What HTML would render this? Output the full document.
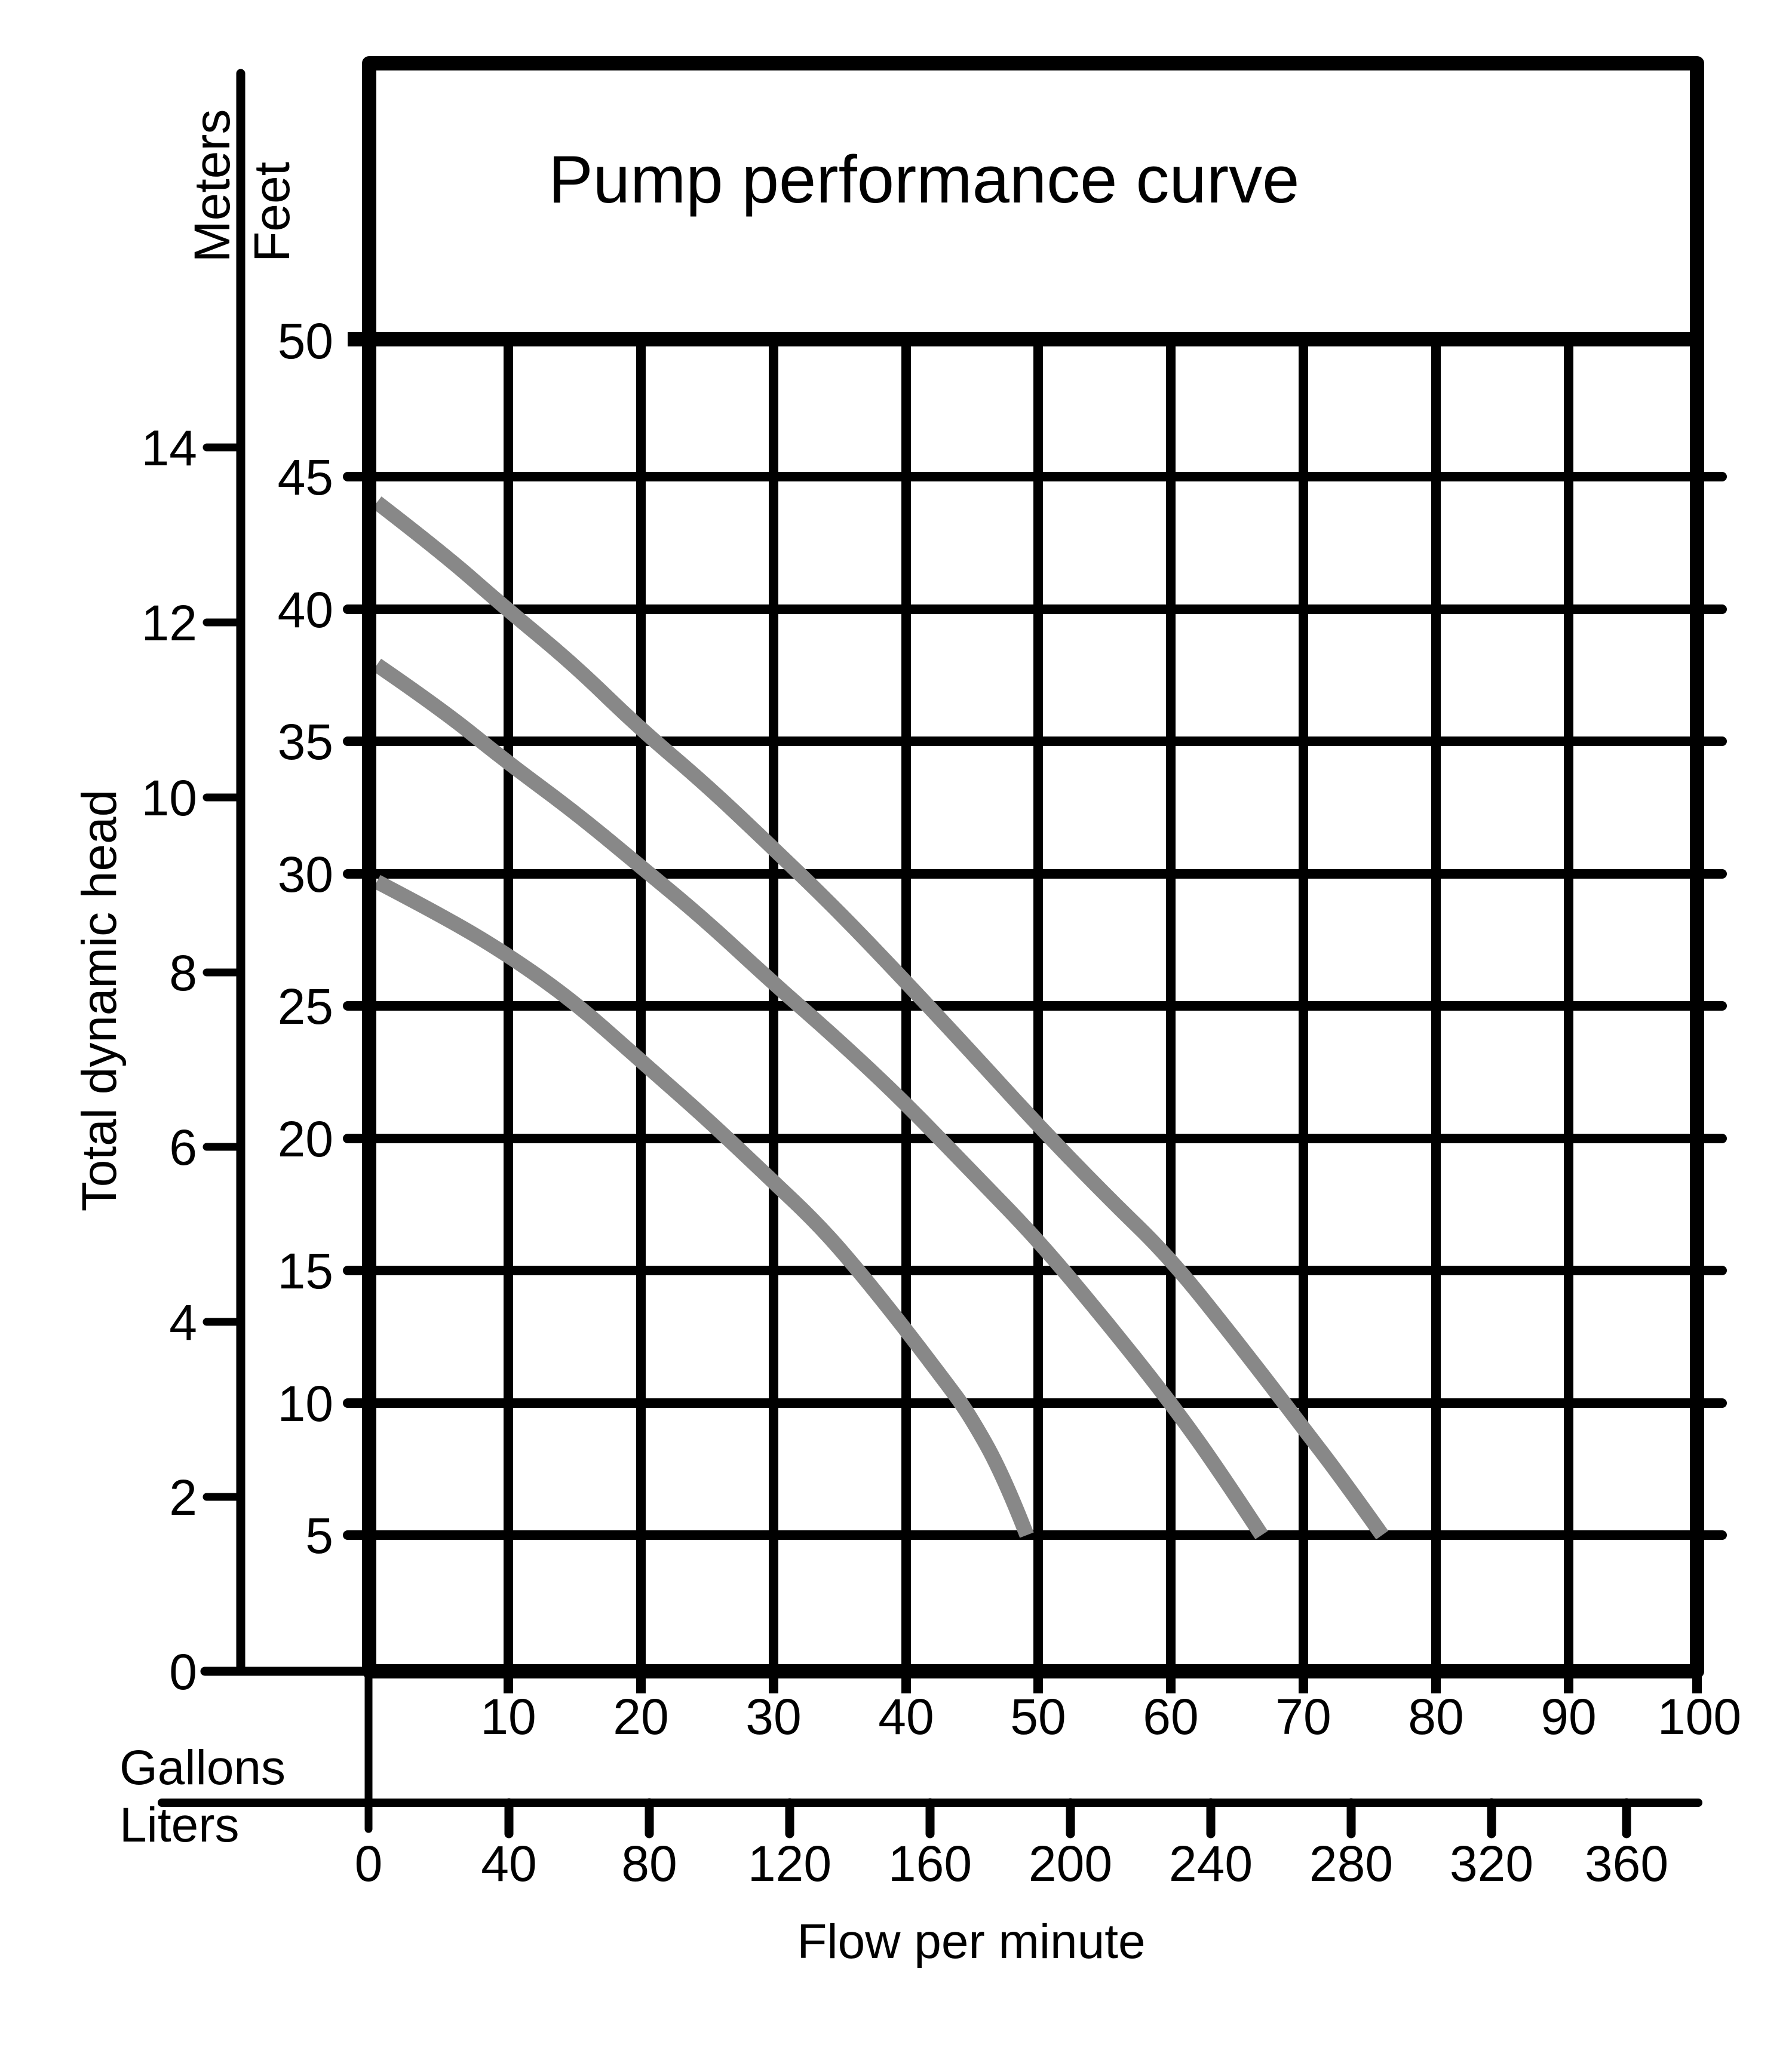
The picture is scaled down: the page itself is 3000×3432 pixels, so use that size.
<!DOCTYPE html>
<html><head><meta charset="utf-8"><style>
html,body{margin:0;padding:0;background:#fff;}
svg{display:block;}
text{font-family:"Liberation Sans",Arial,sans-serif;fill:#000;}
</style></head><body>
<svg width="3000" height="3432" viewBox="0 0 3000 3432" xmlns="http://www.w3.org/2000/svg">
<rect width="3000" height="3432" fill="#fff"/>
<g stroke="#000" stroke-width="16" stroke-linecap="round">
<line x1="582" y1="798" x2="2883" y2="798"/>
<line x1="582" y1="1020" x2="2883" y2="1020"/>
<line x1="582" y1="1241" x2="2883" y2="1241"/>
<line x1="582" y1="1463" x2="2883" y2="1463"/>
<line x1="582" y1="1684" x2="2883" y2="1684"/>
<line x1="582" y1="1906" x2="2883" y2="1906"/>
<line x1="582" y1="2127" x2="2883" y2="2127"/>
<line x1="582" y1="2349" x2="2883" y2="2349"/>
<line x1="582" y1="2570" x2="2883" y2="2570"/>
</g>
<g stroke="#000" stroke-width="16">
<line x1="851" y1="568" x2="851" y2="2835"/>
<line x1="1073" y1="568" x2="1073" y2="2835"/>
<line x1="1295" y1="568" x2="1295" y2="2835"/>
<line x1="1517" y1="568" x2="1517" y2="2835"/>
<line x1="1738" y1="568" x2="1738" y2="2835"/>
<line x1="1960" y1="568" x2="1960" y2="2835"/>
<line x1="2182" y1="568" x2="2182" y2="2835"/>
<line x1="2404" y1="568" x2="2404" y2="2835"/>
<line x1="2626" y1="568" x2="2626" y2="2835"/>
<line x1="2841" y1="2798" x2="2841" y2="2835"/>
</g>
<g fill="none" stroke="#888" stroke-width="25">
<path d="M631,841 Q740,925 792.5,971 Q845,1017 902.5,1064.5 Q960,1112 1013.5,1164 Q1067,1216 1123.5,1264 Q1180,1312 1234.5,1363.5 Q1289,1415 1344.5,1468.5 Q1400,1522 1455,1579.5 Q1510,1637 1565,1696 Q1620,1755 1678,1818.5 Q1736,1882 1793,1941 Q1850,2000 1904,2052.5 Q1958,2105 2014,2175 Q2070,2245 2125,2316.5 Q2180,2388 2215,2434 Q2250,2480 2314,2570"/>
<path d="M631,1113 Q740,1188 792.5,1230.5 Q845,1273 902.5,1315.5 Q960,1358 1013.5,1402 Q1067,1446 1123.5,1493 Q1180,1540 1234.5,1590.5 Q1289,1641 1344.5,1689.5 Q1400,1738 1457,1791.5 Q1514,1845 1569.5,1902.5 Q1625,1960 1680.5,2017 Q1736,2074 1793,2142 Q1850,2210 1904,2278 Q1958,2346 1999,2403 Q2040,2460 2112,2570"/>
<path d="M631,1476 Q740,1533 792.5,1564 Q845,1595 902.5,1635.5 Q960,1676 1013.5,1723.5 Q1067,1771 1123.5,1820.5 Q1180,1870 1234.5,1921.5 Q1289,1973 1329.5,2011.5 Q1370,2050 1404,2089 Q1438,2128 1477.5,2177.5 Q1517,2227 1548.5,2268.5 Q1580,2310 1600.5,2337.5 Q1621,2365 1650.5,2417.5 Q1680,2470 1719,2570"/>
</g>
<rect x="618" y="106" width="2223" height="2692" fill="none" stroke="#000" stroke-width="24" stroke-linejoin="round"/>
<line x1="582" y1="568" x2="2853" y2="568" stroke="#000" stroke-width="24"/>
<g stroke="#000" stroke-linecap="round">
<line x1="403" y1="123" x2="403" y2="2798" stroke-width="15"/>
<line x1="343" y1="2798" x2="630" y2="2798" stroke-width="15"/>
<g stroke-width="13">
<line x1="346" y1="749" x2="403" y2="749"/>
<line x1="346" y1="1042" x2="403" y2="1042"/>
<line x1="346" y1="1335" x2="403" y2="1335"/>
<line x1="346" y1="1628" x2="403" y2="1628"/>
<line x1="346" y1="1920" x2="403" y2="1920"/>
<line x1="346" y1="2213" x2="403" y2="2213"/>
<line x1="346" y1="2506" x2="403" y2="2506"/>
</g>
<line x1="617" y1="2798" x2="617" y2="3062" stroke-width="13"/>
<line x1="271" y1="3018" x2="2843" y2="3018" stroke-width="14"/>
<g stroke-width="15">
<line x1="852" y1="3018" x2="852" y2="3070"/>
<line x1="1087" y1="3018" x2="1087" y2="3070"/>
<line x1="1322" y1="3018" x2="1322" y2="3070"/>
<line x1="1557" y1="3018" x2="1557" y2="3070"/>
<line x1="1792" y1="3018" x2="1792" y2="3070"/>
<line x1="2027" y1="3018" x2="2027" y2="3070"/>
<line x1="2262" y1="3018" x2="2262" y2="3070"/>
<line x1="2497" y1="3018" x2="2497" y2="3070"/>
<line x1="2723" y1="3018" x2="2723" y2="3070"/>
</g>
</g>
<text x="918" y="339" font-size="112">Pump performance curve</text>
<g font-size="84" text-anchor="end">
<text x="558" y="600">50</text>
<text x="558" y="828">45</text>
<text x="558" y="1050">40</text>
<text x="558" y="1271">35</text>
<text x="558" y="1493">30</text>
<text x="558" y="1714">25</text>
<text x="558" y="1936">20</text>
<text x="558" y="2157">15</text>
<text x="558" y="2379">10</text>
<text x="558" y="2600">5</text>
</g>
<g font-size="84" text-anchor="end">
<text x="330" y="779">14</text>
<text x="330" y="1072">12</text>
<text x="330" y="1365">10</text>
<text x="330" y="1658">8</text>
<text x="330" y="1950">6</text>
<text x="330" y="2243">4</text>
<text x="330" y="2536">2</text>
<text x="330" y="2828">0</text>
</g>
<g font-size="84" text-anchor="middle">
<text x="851" y="2903">10</text>
<text x="1073" y="2903">20</text>
<text x="1295" y="2903">30</text>
<text x="1517" y="2903">40</text>
<text x="1738" y="2903">50</text>
<text x="1960" y="2903">60</text>
<text x="2182" y="2903">70</text>
<text x="2404" y="2903">80</text>
<text x="2626" y="2903">90</text>
<text x="2845" y="2903">100</text>
</g>
<g font-size="84" text-anchor="middle">
<text x="617" y="3149">0</text>
<text x="852" y="3149">40</text>
<text x="1087" y="3149">80</text>
<text x="1322" y="3149">120</text>
<text x="1557" y="3149">160</text>
<text x="1792" y="3149">200</text>
<text x="2027" y="3149">240</text>
<text x="2262" y="3149">280</text>
<text x="2497" y="3149">320</text>
<text x="2723" y="3149">360</text>
</g>
<text x="200" y="2987" font-size="82">Gallons</text>
<text x="200" y="3083" font-size="82">Liters</text>
<text x="1626" y="3278" font-size="82" text-anchor="middle">Flow per minute</text>
<text transform="translate(384,311) rotate(-90)" font-size="84" text-anchor="middle">Meters</text>
<text transform="translate(484,355) rotate(-90)" font-size="84" text-anchor="middle">Feet</text>
<text transform="translate(194,1675) rotate(-90)" font-size="82" text-anchor="middle">Total dynamic head</text>
</svg>
</body></html>
